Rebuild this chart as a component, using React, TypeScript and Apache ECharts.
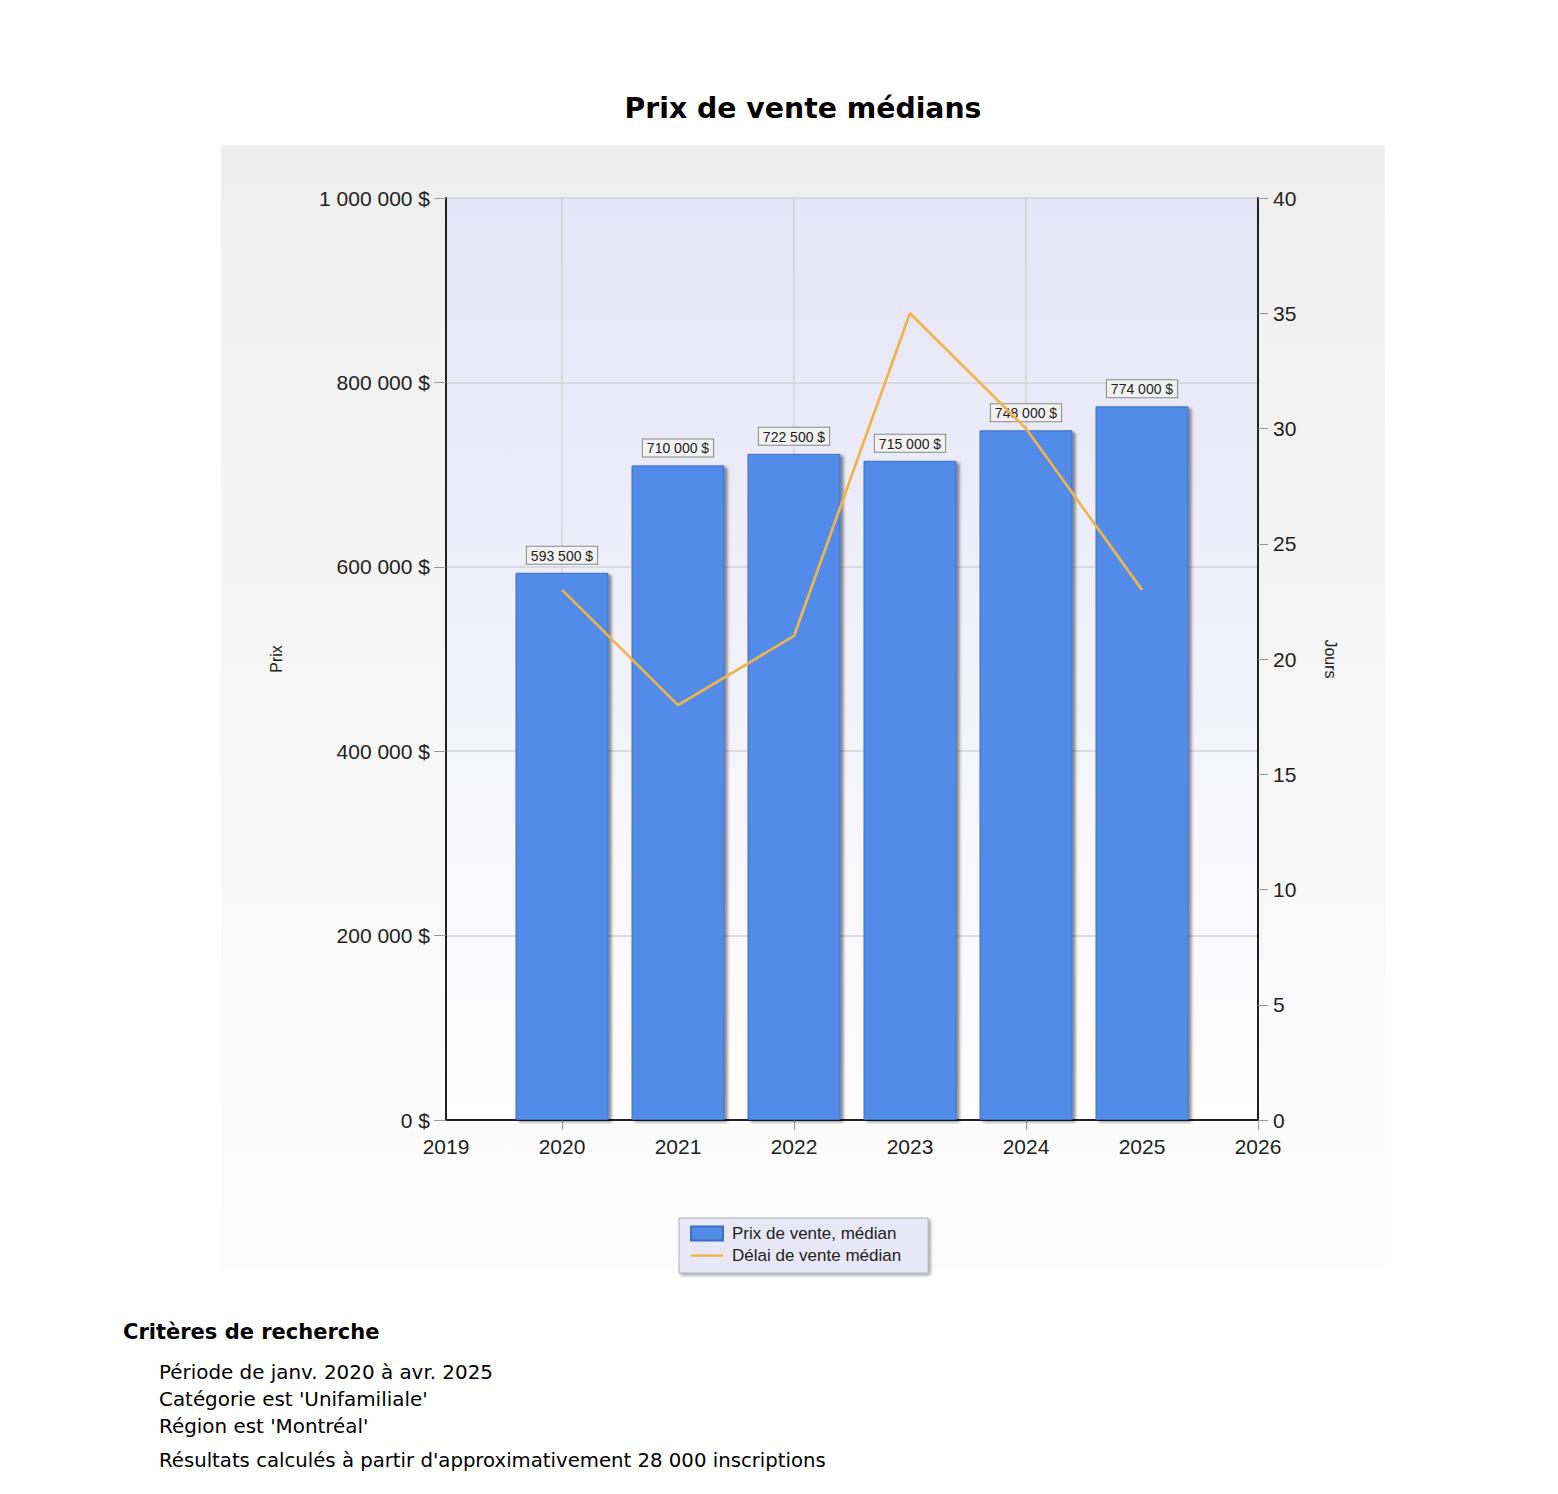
import React, { useEffect, useRef } from "react";
import * as echarts from "echarts";

// données du graphique
const annees = [2020, 2021, 2022, 2023, 2024, 2025];
const prixMedian = [593500, 710000, 722500, 715000, 748000, 774000];
const delaiMedian = [23, 18, 21, 35, 30, 23];
const anneesGrille = [2020, 2022, 2024, 2026]; // traits verticaux, une année sur deux
const criteres = [
  "Période de janv. 2020 à avr. 2025",
  "Catégorie est 'Unifamiliale'",
  "Région est 'Montréal'",
];
const resultats = "Résultats calculés à partir d'approximativement 28 000 inscriptions";

// 1000000 -> "1 000 000 $"
const formatPrix = (v: number) =>
  String(Math.round(v)).replace(/\B(?=(\d{3})+(?!\d))/g, " ") + " $";

const tickFont = "'Liberation Sans', Arial, sans-serif";
const pageFont = "'DejaVu Sans', Verdana, sans-serif";
const gridColor = "#d3d3d8";

const App: React.FC = () => {
  const chartRef = useRef<HTMLDivElement>(null);

  useEffect(() => {
    const myChart = echarts.init(chartRef.current, null, { renderer: "svg" });

    const option: echarts.EChartsOption = {
      animation: false,
      backgroundColor: "#ffffff",
      graphic: [
        // fond du panneau
        {
          type: "rect",
          z: -10,
          silent: true,
          shape: { x: 221, y: 145, width: 1164, height: 1125 },
          style: {
            fill: new echarts.graphic.LinearGradient(0, 0, 0, 1, [
              { offset: 0, color: "#efefef" },
              { offset: 1, color: "#fdfdfd" },
            ]),
          },
        },
        {
          type: "text",
          x: 803,
          y: 108,
          style: {
            text: "Prix de vente médians",
            font: `bold 28.3px ${pageFont}`,
            fill: "#000",
            align: "center",
            verticalAlign: "middle",
          },
        },
        {
          type: "text",
          x: 123,
          y: 1332,
          style: {
            text: "Critères de recherche",
            font: `bold 21px ${pageFont}`,
            fill: "#000",
            verticalAlign: "middle",
          },
        },
        ...criteres.map((t, i) => ({
          type: "text" as const,
          x: 159,
          y: 1372 + i * 27,
          style: {
            text: t,
            font: `19.9px ${pageFont}`,
            fill: "#000",
            verticalAlign: "middle" as const,
          },
        })),
        {
          type: "text",
          x: 159,
          y: 1460,
          style: {
            text: resultats,
            font: `19.7px ${pageFont}`,
            fill: "#000",
            verticalAlign: "middle",
          },
        },
      ],
      grid: {
        left: 446,
        top: 198,
        right: 300,
        bottom: 374,
        show: true,
        borderWidth: 0,
        backgroundColor: new echarts.graphic.LinearGradient(0, 0, 0, 1, [
          { offset: 0, color: "#e4e4f6" },
          { offset: 1, color: "#ffffff" },
        ]) as any,
      },
      legend: {
        left: 679,
        top: 1218,
        orient: "vertical",
        backgroundColor: "#e7e7f6",
        borderColor: "#b0b0b8",
        borderWidth: 1,
        padding: [7, 27, 9, 11],
        itemGap: 5,
        itemWidth: 32,
        itemHeight: 14,
        shadowColor: "rgba(0,0,0,0.35)",
        shadowBlur: 3,
        shadowOffsetX: 2,
        shadowOffsetY: 2,
        textStyle: { fontFamily: tickFont, fontSize: 17, color: "#222", padding: [0, 0, 0, 4] },
        data: [
          { name: "Prix de vente, médian", icon: "rect" },
          { name: "Délai de vente médian", icon: "path://M0,0 L32,0 L32,2.5 L0,2.5 Z" },
        ],
      },
      xAxis: {
        type: "value",
        min: 2019,
        max: 2026,
        interval: 1,
        axisLine: { lineStyle: { color: "#222", width: 2 } },
        axisTick: {
          show: true,
          length: 10,
          lineStyle: { color: "#999" },
          customValues: anneesGrille,
        } as any,
        splitLine: { show: true, lineStyle: { color: gridColor, width: 1.5 } },
        axisLabel: {
          fontFamily: tickFont,
          fontSize: 21,
          color: "#222",
          margin: 16,
          formatter: (v: number) => String(v),
        },
      },
      yAxis: [
        {
          type: "value",
          min: 0,
          max: 1000000,
          interval: 200000,
          name: "Prix",
          nameLocation: "middle",
          nameGap: 162,
          nameTextStyle: { fontFamily: tickFont, fontSize: 16, color: "#222" },
          axisLine: { show: true, lineStyle: { color: "#222", width: 2 } },
          axisTick: { show: true, length: 12, lineStyle: { color: "#999" } },
          splitLine: { show: true, lineStyle: { color: gridColor, width: 1.5 } },
          axisLabel: {
            fontFamily: tickFont,
            fontSize: 21,
            color: "#222",
            margin: 16,
            formatter: (v: number) => formatPrix(v),
          },
        },
        {
          type: "value",
          min: 0,
          max: 40,
          interval: 5,
          position: "right",
          name: "Jours",
          nameLocation: "middle",
          nameGap: 64,
          nameRotate: -90,
          nameTextStyle: { fontFamily: tickFont, fontSize: 16, color: "#222" },
          axisLine: { show: true, lineStyle: { color: "#222", width: 2 } },
          axisTick: { show: true, length: 10, lineStyle: { color: "#999" } },
          splitLine: { show: false },
          axisLabel: {
            fontFamily: tickFont,
            fontSize: 21,
            color: "#222",
            margin: 15,
          },
        },
      ],
      series: [
        {
          name: "Prix de vente, médian",
          type: "bar",
          yAxisIndex: 0,
          barWidth: 93,
          data: annees.map((a, i) => [a, prixMedian[i]]),
          itemStyle: {
            color: "#528be8",
            borderColor: "#3f6fc2",
            borderWidth: 1,
            shadowColor: "rgba(0,0,0,0.45)",
            shadowBlur: 3,
            shadowOffsetX: 3,
            shadowOffsetY: 2,
          },
          label: {
            show: true,
            position: "top",
            distance: 9,
            fontFamily: tickFont,
            fontSize: 14,
            color: "#222",
            backgroundColor: "#f2f2f2",
            borderColor: "#888",
            borderWidth: 1,
            padding: [2, 4, 1, 4],
            formatter: (p: any) => formatPrix(p.value[1]),
          },
        },
        {
          name: "Délai de vente médian",
          type: "line",
          yAxisIndex: 1,
          symbol: "none",
          data: annees.map((a, i) => [a, delaiMedian[i]]),
          lineStyle: { color: "#f0b44c", width: 2.7 },
          itemStyle: { color: "#f0b44c" },
          z: 5,
        },
      ],
    };

    myChart.setOption(option);
    return () => {
      myChart.dispose();
    };
  }, []);

  return (
    <div
      ref={chartRef}
      style={{ position: "fixed", left: 0, top: 0, width: 1558, height: 1494 }}
    />
  );
};

export default App;
